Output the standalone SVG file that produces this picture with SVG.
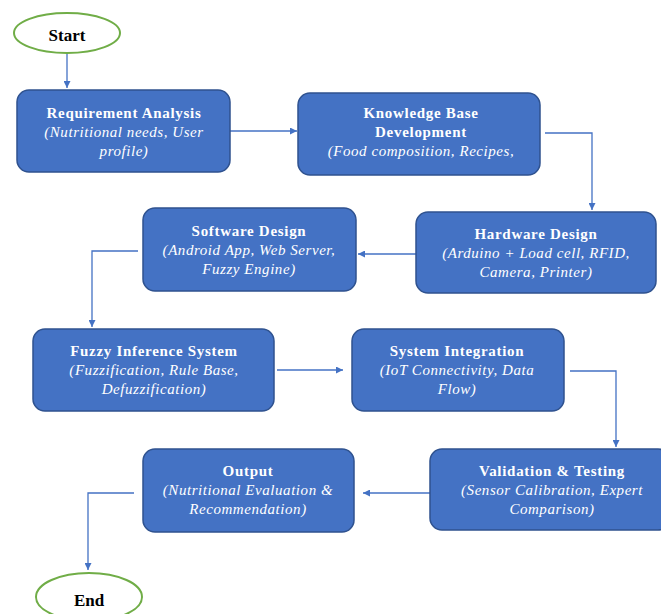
<svg xmlns="http://www.w3.org/2000/svg" width="661" height="614" viewBox="0 0 661 614">
<style>
.box{fill:#4472C4;stroke:#2F528F;stroke-width:1.5}
.term{fill:#fff;stroke:#70AD47;stroke-width:2}
text{font-family:'Liberation Serif','Times New Roman','DejaVu Serif',serif;text-anchor:middle}
.t{font-size:15px;font-weight:bold;fill:#fff;letter-spacing:0.7px}
.i{font-size:15px;font-style:italic;fill:#fff;letter-spacing:0.55px}
.tt{font-size:17px;font-weight:bold;fill:#000}
.c{fill:none;stroke:#4472C4;stroke-width:1.3;marker-end:url(#ah)}
</style>
<defs>
<marker id="ah" viewBox="0 0 10 10" refX="10" refY="5" markerWidth="7" markerHeight="7" markerUnits="userSpaceOnUse" orient="auto">
<path d="M0,0 L10,5 L0,10 z" fill="#4472C4"/>
</marker>
</defs>
<rect width="661" height="614" fill="#fff"/>
<g id="connectors">
<path class="c" d="M67,53 V88"/>
<path class="c" d="M230,131 H297"/>
<path class="c" d="M545,133 H592 V210"/>
<path class="c" d="M416,254 H358"/>
<path class="c" d="M138,251 H92 V327"/>
<path class="c" d="M277,370 H343"/>
<path class="c" d="M570,371 H616 V447"/>
<path class="c" d="M430,493 H363"/>
<path class="c" d="M134,493 H88 V570"/>
</g>
<g id="start">
<ellipse class="term" cx="67" cy="33" rx="53" ry="20"/>
<text class="tt" x="67" y="41">Start</text>
</g>
<g id="requirement">
<rect class="box" x="17" y="90" width="213" height="82" rx="12"/>
<text class="t" x="124" y="118">Requirement Analysis</text>
<text class="i" x="124" y="137">(Nutritional needs, User</text>
<text class="i" x="124" y="156">profile)</text>
</g>
<g id="knowledge">
<rect class="box" x="298" y="93" width="242" height="82" rx="12"/>
<text class="t" x="421" y="118">Knowledge Base</text>
<text class="t" x="421" y="137">Development</text>
<text class="i" x="421" y="156">(Food composition, Recipes,</text>
</g>
<g id="hardware">
<rect class="box" x="416" y="212" width="240" height="81" rx="12"/>
<text class="t" x="536" y="239">Hardware Design</text>
<text class="i" x="536" y="258">(Arduino + Load cell, RFID,</text>
<text class="i" x="536" y="277">Camera, Printer)</text>
</g>
<g id="software">
<rect class="box" x="143" y="208" width="213" height="83" rx="12"/>
<text class="t" x="249" y="236">Software Design</text>
<text class="i" x="249" y="255">(Android App, Web Server,</text>
<text class="i" x="249" y="274">Fuzzy Engine)</text>
</g>
<g id="fuzzy">
<rect class="box" x="33" y="329" width="241" height="82" rx="12"/>
<text class="t" x="154" y="356">Fuzzy Inference System</text>
<text class="i" x="154" y="375">(Fuzzification, Rule Base,</text>
<text class="i" x="154" y="394">Defuzzification)</text>
</g>
<g id="integration">
<rect class="box" x="352" y="329" width="212" height="82" rx="12"/>
<text class="t" x="457" y="356">System Integration</text>
<text class="i" x="457" y="375">(IoT Connectivity, Data</text>
<text class="i" x="457" y="394">Flow)</text>
</g>
<g id="validation">
<rect class="box" x="430" y="449" width="240" height="81" rx="12"/>
<text class="t" x="552" y="476">Validation &amp; Testing</text>
<text class="i" x="552" y="495">(Sensor Calibration, Expert</text>
<text class="i" x="552" y="514">Comparison)</text>
</g>
<g id="output">
<rect class="box" x="143" y="449" width="211" height="83" rx="12"/>
<text class="t" x="248" y="476">Output</text>
<text class="i" x="248" y="495">(Nutritional Evaluation &amp;</text>
<text class="i" x="248" y="514">Recommendation)</text>
</g>
<g id="end">
<ellipse class="term" cx="89" cy="597" rx="53" ry="24"/>
<text class="tt" x="89" y="606">End</text>
</g>
</svg>
